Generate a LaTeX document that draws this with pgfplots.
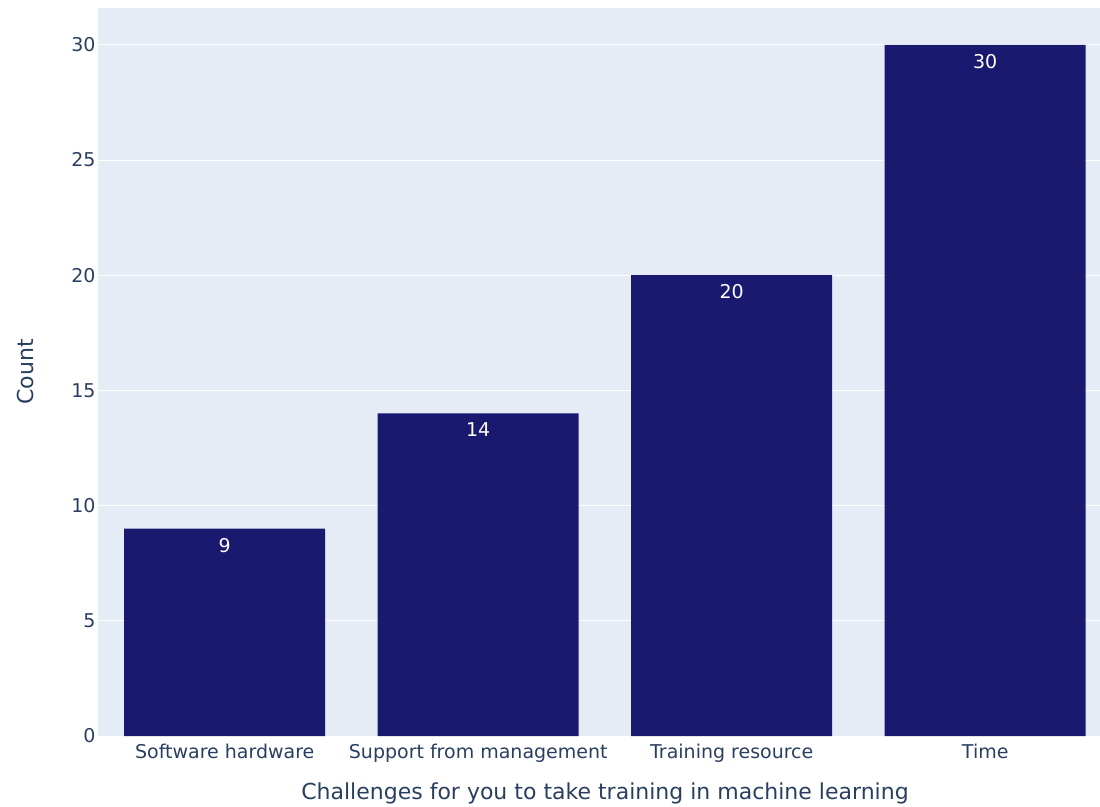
\documentclass[border=0pt]{standalone}
\usepackage{pgfplots}
\pgfplotsset{compat=1.18}
\usepackage{fontspec}
\setmainfont{DejaVu Sans}
\definecolor{bgc}{HTML}{E5ECF6}
\definecolor{barc}{HTML}{191970}
\definecolor{txtc}{HTML}{2A3F5F}
\begin{document}
\begin{tikzpicture}[x=1pt,y=1pt]
\useasboundingbox (-98pt,-70pt) rectangle (1002pt,736pt);
\begin{axis}[
  at={(0,0)}, anchor=south west,
  scale only axis, width=1014pt, height=728pt,
  xmin=-0.5, xmax=3.5, ymin=0, ymax=31.6,
  axis background/.style={fill=bgc},
  axis line style={draw=none},
  tick style={draw=none},
  xtick=data,
  xticklabels={Software hardware,Support from management,Training resource,Time},
  ytick={0,5,10,15,20,25,30},
  ymajorgrids, grid style={white, line width=1pt},
  /pgf/number format/assume math mode=true,
  ticklabel style={font=\fontsize{19}{22}\selectfont, text=txtc},
  xticklabel style={yshift=0pt},
  yticklabel style={xshift=1pt},
  xlabel={Challenges for you to take training in machine learning},
  ylabel={Count},
  every axis x label/.style={at={(axis description cs:0.5,0)}, yshift=-57pt, anchor=center},
  every axis y label/.style={at={(axis description cs:0,0.5)}, xshift=-73pt, anchor=center, rotate=90},
  label style={font=\fontsize{22}{26}\selectfont, text=txtc},
  ybar, bar width=201pt,
  nodes near coords,
  nodes near coords style={font=\fontsize{19}{22}\selectfont, text=white, anchor=north, yshift=-6pt},
  clip=false,
]
\addplot[fill=barc, draw=none] coordinates {(0,9) (1,14) (2,20) (3,30)};
\end{axis}
\end{tikzpicture}
\end{document}
